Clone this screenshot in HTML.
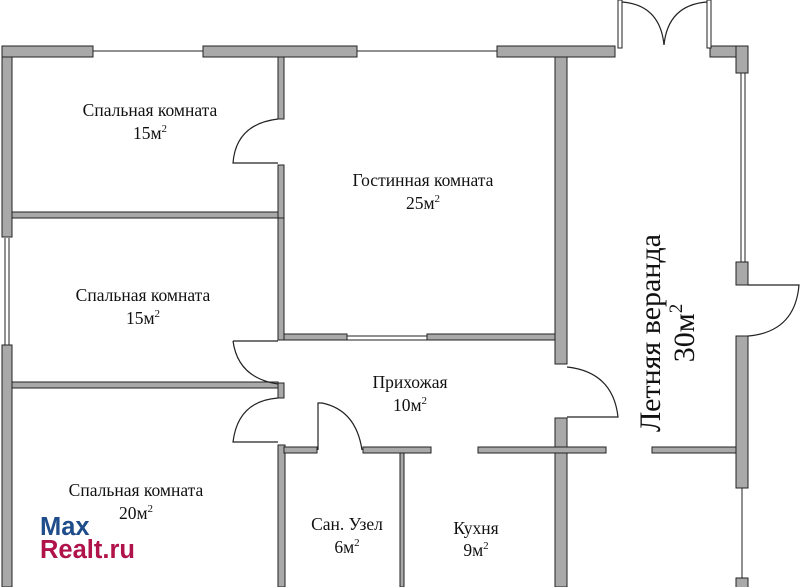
<!DOCTYPE html>
<html><head><meta charset="utf-8"><style>
html,body{margin:0;padding:0;background:#fff;width:800px;height:587px;overflow:hidden}
svg{display:block}
.t{font-family:"Liberation Serif",serif;fill:#111}
.w{fill:#a9a9a9;stroke:#222;stroke-width:1}
.l{stroke:#222;stroke-width:1;fill:none}
.d{stroke:#222;stroke-width:1.2;fill:none}
.lg{font-family:"Liberation Sans",sans-serif;font-weight:bold;font-size:25.5px}
</style></head><body>
<svg width="800" height="587" viewBox="0 0 800 587">
<rect class="w" x="2" y="46" width="91" height="11"/>
<rect class="w" x="203" y="46" width="154" height="11"/>
<rect class="w" x="497" y="46" width="118" height="11"/>
<rect class="w" x="710" y="46" width="38" height="11"/>
<rect class="w" x="736" y="46" width="12" height="27"/>
<line class="l" x1="93" y1="51" x2="203" y2="51"/>
<line class="l" x1="357" y1="51" x2="497" y2="51"/>
<rect class="w" x="618" y="0" width="4" height="48" style="fill:#fff"/>
<rect class="w" x="707" y="0" width="4" height="48" style="fill:#fff"/>
<path class="d" d="M622 2 Q660 5 664 45"/>
<path class="d" d="M707 2 Q668 5 664 45"/>
<rect class="w" x="2" y="57" width="10" height="180"/>
<line class="l" x1="5" y1="238" x2="5" y2="345"/>
<line class="l" x1="9" y1="238" x2="9" y2="345"/>
<rect class="w" x="2" y="345" width="10" height="242"/>
<rect class="w" x="12" y="212" width="272" height="6"/>
<rect class="w" x="12" y="382" width="266" height="6"/>
<rect class="w" x="278" y="57" width="6" height="62"/>
<rect class="w" x="278" y="165" width="6" height="53"/>
<path class="d" d="M278 119 Q236 124 233 163 L278 163"/>
<rect class="w" x="278" y="218" width="6" height="122"/>
<path class="d" d="M233 341 L278 341 M233 341 Q238 378 278 384"/>
<rect class="w" x="278" y="383" width="6" height="15"/>
<path class="d" d="M278 398 Q238 401 233 442 L278 442"/>
<rect class="w" x="278" y="445" width="7" height="142"/>
<rect class="w" x="284" y="334" width="63" height="6"/>
<line class="l" x1="347" y1="336" x2="427" y2="336"/>
<line class="l" x1="347" y1="340" x2="427" y2="340"/>
<rect class="w" x="427" y="334" width="134" height="6"/>
<rect class="w" x="555" y="57" width="12" height="307"/>
<path class="d" d="M567 367 Q613 372 618 417 L567 417"/>
<rect class="w" x="555" y="418" width="12" height="169"/>
<rect class="w" x="284" y="447" width="33" height="6"/>
<path class="d" d="M318 450 L318 403 L322 403 Q356 410 362 450"/>
<rect class="w" x="363" y="447" width="68" height="6"/>
<rect class="w" x="478" y="447" width="128" height="6"/>
<rect class="w" x="652" y="447" width="90" height="6"/>
<rect class="w" x="400" y="453" width="4" height="134"/>
<line class="l" x1="741" y1="73" x2="741" y2="262"/>
<line class="l" x1="745" y1="73" x2="745" y2="262"/>
<rect class="w" x="736" y="262" width="12" height="23"/>
<path class="d" d="M748 285 L799 285 Q795 332 748 336"/>
<rect class="w" x="736" y="336" width="12" height="152"/>
<line class="l" x1="742" y1="488" x2="742" y2="578"/>
<rect class="w" x="736" y="578" width="12" height="12"/>
<g class="t" font-size="17.5" text-anchor="middle">
<text class="t" x="150" y="116">Спальная комната</text>
<text class="t" x="150" y="139">15м<tspan dy="-7" font-size="11">2</tspan></text>
<text class="t" x="143" y="301">Спальная комната</text>
<text class="t" x="143" y="324">15м<tspan dy="-7" font-size="11">2</tspan></text>
<text class="t" x="423" y="186">Гостинная комната</text>
<text class="t" x="423" y="209">25м<tspan dy="-7" font-size="11">2</tspan></text>
<text class="t" x="410" y="388">Прихожая</text>
<text class="t" x="410" y="411">10м<tspan dy="-7" font-size="11">2</tspan></text>
<text class="t" x="136" y="496">Спальная комната</text>
<text class="t" x="136" y="519">20м<tspan dy="-7" font-size="11">2</tspan></text>
<text class="t" x="347" y="530">Сан. Узел</text>
<text class="t" x="347" y="553">6м<tspan dy="-7" font-size="11">2</tspan></text>
<text class="t" x="476" y="534">Кухня</text>
<text class="t" x="476" y="556">9м<tspan dy="-7" font-size="11">2</tspan></text>
</g>
<g transform="translate(660,333) rotate(-90)" font-size="30" text-anchor="middle">
<text class="t" x="0" y="0">Летняя веранда</text>
<text class="t" x="0" y="34">30м<tspan dy="-12" font-size="19">2</tspan></text>
</g>
<text class="lg" x="40" y="535" style="fill:#1f4c8a">Max</text>
<text class="lg" x="40" y="558" style="fill:#b0124a">Realt.ru</text>
</svg>
</body></html>
